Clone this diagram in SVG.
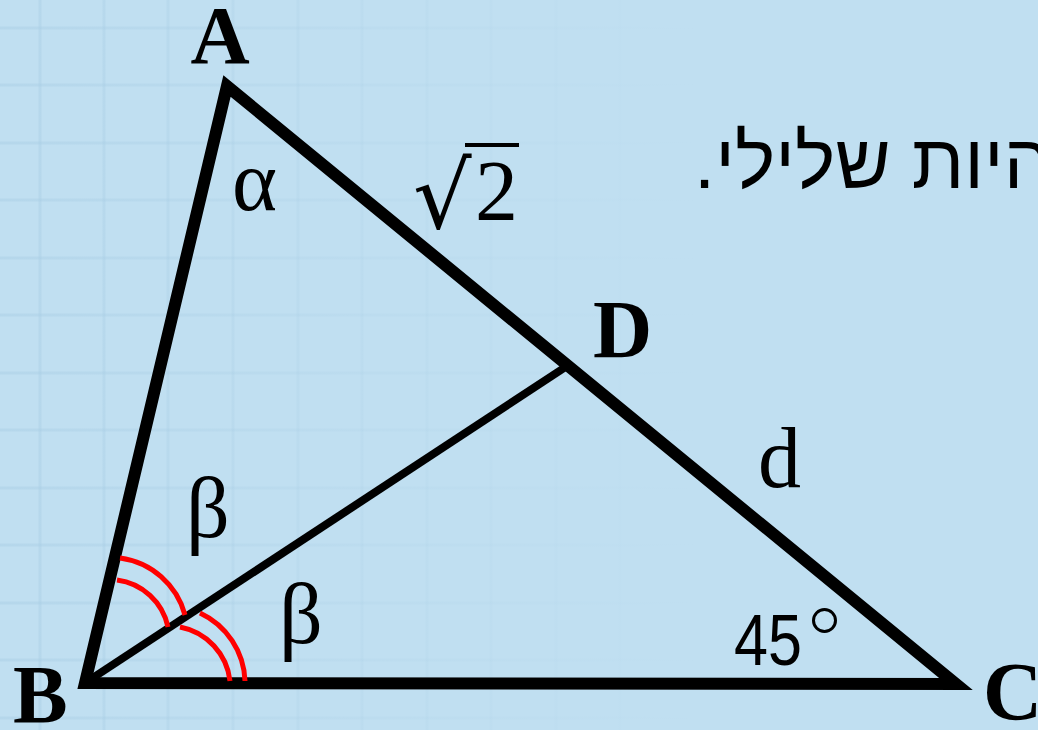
<svg xmlns="http://www.w3.org/2000/svg" width="1038" height="730" viewBox="0 0 1038 730">
<defs>
<linearGradient id="fade" gradientUnits="userSpaceOnUse" x1="0" y1="0" x2="700" y2="0">
<stop offset="0" stop-color="#a8cde4" stop-opacity="0.45"/>
<stop offset="0.5" stop-color="#a8cde4" stop-opacity="0.18"/>
<stop offset="1" stop-color="#a8cde4" stop-opacity="0"/>
</linearGradient>
<style>
.grid line{stroke:url(#fade);stroke-width:3}
.edge{fill:none;stroke:#000;stroke-width:12;stroke-linejoin:miter;stroke-miterlimit:10}
.arc{fill:none;stroke:#ff0000;stroke-width:5}
.pt{font-family:"Liberation Serif",serif;font-weight:bold;font-size:82px;fill:#000}
.math{font-family:"Liberation Serif","DejaVu Serif",serif;font-size:86px;fill:#000}
</style>
</defs>
<rect width="1038" height="730" fill="#c0dff1"/>
<g class="grid">
<line x1="40" y1="0" x2="40" y2="730"/>
<line x1="104" y1="0" x2="104" y2="730"/>
<line x1="168" y1="0" x2="168" y2="730"/>
<line x1="233" y1="0" x2="233" y2="730"/>
<line x1="298" y1="0" x2="298" y2="730"/>
<line x1="362" y1="0" x2="362" y2="730"/>
<line x1="427" y1="0" x2="427" y2="730"/>
<line x1="491" y1="0" x2="491" y2="730"/>
<line x1="556" y1="0" x2="556" y2="730"/>
<line x1="620" y1="0" x2="620" y2="730"/>
<line x1="0" y1="28" x2="1038" y2="28"/>
<line x1="0" y1="85" x2="1038" y2="85"/>
<line x1="0" y1="143" x2="1038" y2="143"/>
<line x1="0" y1="200" x2="1038" y2="200"/>
<line x1="0" y1="258" x2="1038" y2="258"/>
<line x1="0" y1="315" x2="1038" y2="315"/>
<line x1="0" y1="373" x2="1038" y2="373"/>
<line x1="0" y1="430" x2="1038" y2="430"/>
<line x1="0" y1="488" x2="1038" y2="488"/>
<line x1="0" y1="545" x2="1038" y2="545"/>
<line x1="0" y1="603" x2="1038" y2="603"/>
<line x1="0" y1="660" x2="1038" y2="660"/>
<line x1="0" y1="718" x2="1038" y2="718"/>
</g>
<g id="connectors">
<polygon class="edge" points="227,86 85,683 956,684"/>
<line x1="85" y1="683" x2="567" y2="366" stroke="#000" stroke-width="8"/>
</g>
<g id="angle-marks">
<path class="arc" d="M117,580 A60,60 0 0 1 168,627"/>
<path class="arc" d="M120,558 A78,78 0 0 1 185,615"/>
<path class="arc" d="M180,627 A62,62 0 0 1 230,681"/>
<path class="arc" d="M200,613 A78,78 0 0 1 245,681"/>
</g>
<g id="node-A"><text class="pt" x="220" y="63" text-anchor="middle">A</text></g>
<g id="node-B"><text class="pt" x="13" y="722">B</text></g>
<g id="node-C"><text class="pt" x="983" y="719">C</text></g>
<g id="node-D"><text class="pt" x="593" y="357">D</text></g>
<g id="labels">
<text class="math" x="232" y="210">α</text>
<text class="math" x="186" y="537">β</text>
<text class="math" x="279" y="643">β</text>
<text class="math" x="758" y="487">d</text>
<text x="413" y="228" font-family="DejaVu Serif" font-size="92" fill="#000">√</text>
<line x1="465" y1="145" x2="519" y2="145" stroke="#000" stroke-width="4"/>
<text class="math" x="475" y="220" font-size="82">2</text>
<text x="734" y="665" font-family="Liberation Sans" font-size="72" textLength="68" lengthAdjust="spacingAndGlyphs" fill="#000">45</text>
<circle cx="824.5" cy="620.5" r="11" fill="none" stroke="#000" stroke-width="3"/>
<text x="1052" y="188" font-family="Liberation Sans,DejaVu Sans,sans-serif" font-size="76" direction="rtl" text-anchor="start" fill="#000">היות שלילי.</text>
</g>
</svg>
